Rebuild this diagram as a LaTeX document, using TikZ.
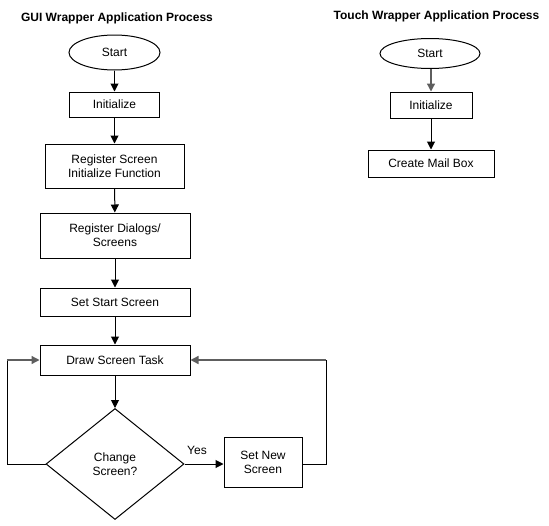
\documentclass[tikz,border=0pt]{standalone}
\usepackage{fontspec}
\setmainfont{Liberation Sans}
\usetikzlibrary{shapes.geometric,arrows.meta}
\definecolor{lgray}{HTML}{5E5E5E}
\begin{document}
\begin{tikzpicture}[x=1pt,y=-1pt,
  every node/.style={font=\fontsize{12}{14}\selectfont, inner sep=0pt, align=center},
  ttl/.style={font=\bfseries\fontsize{12}{14}\selectfont},
  procbox/.style={draw, line width=1pt, rectangle},
  startell/.style={draw, line width=1pt, ellipse},
  decide/.style={draw, line width=1pt, diamond},
  conn/.style={line width=1pt, draw=black},
  arr/.style={conn, -{Triangle[length=8pt,width=8pt]}},
  garr/.style={line width=1.3pt, draw=lgray, -{Triangle[length=8pt,width=8pt]}}
]
\useasboundingbox (0,0) rectangle (549,525);
\fill[white] (0,0) rectangle (549,525);
% GUI process
\node[ttl] (t1) at (117,18) {GUI Wrapper Application Process};
\node[startell, minimum width=91pt, minimum height=35pt] (s1) at (114.5,52.5) {Start};
\node[procbox, minimum width=90pt, minimum height=25pt] (i1) at (114.5,104.5) {Initialize};
\node[procbox, minimum width=139pt, minimum height=44pt] (rs) at (114.5,166) {Register Screen\\Initialize Function};
\node[procbox, minimum width=150pt, minimum height=45pt] (rd) at (115,235.5) {Register Dialogs/\\Screens};
\node[procbox, minimum width=150pt, minimum height=28pt] (ss) at (115,302) {Set Start Screen};
\node[procbox, minimum width=150pt, minimum height=30pt] (ds) at (115,360) {Draw Screen Task};
\node[decide, minimum width=138pt, minimum height=111pt] (cs) at (115,464) {Change\\Screen?};
\node[procbox, minimum width=78pt, minimum height=50pt] (sn) at (263,462) {Set New\\Screen};
\node (yes) at (197,450) {Yes};
\coordinate (lb) at (7,464);
\coordinate (lt) at (7,360);
\coordinate (rb) at (326,464);
\coordinate (rt) at (326,360);
\draw[arr] (s1) -- (i1);
\draw[arr] (i1) -- (rs);
\draw[arr] (rs) -- (rd);
\draw[arr] (rd) -- (ss);
\draw[arr] (ss) -- (ds);
\draw[arr] (ds) -- (cs);
\draw[arr] (cs.east) -- (sn.west |- cs.east);
\draw[conn] (cs.west) -- (lb) -- (lt);
\draw[garr] (lt) -- (ds.west);
\draw[conn] (sn.east |- rb) -- (rb) -- (rt);
\draw[garr] (rt) -- (ds.east);
% Touch process
\node[ttl] (t2) at (436.5,16) {Touch Wrapper Application Process};
\node[startell, minimum width=100pt, minimum height=30pt] (s2) at (430,53.5) {Start};
\node[procbox, minimum width=82pt, minimum height=26pt] (i2) at (431,105) {Initialize};
\node[procbox, minimum width=126pt, minimum height=27pt] (mb) at (431,163.5) {Create Mail Box};
\draw[garr] (s2.south -| i2.north) -- (i2.north);
\draw[arr] (i2) -- (mb);
\end{tikzpicture}
\end{document}
